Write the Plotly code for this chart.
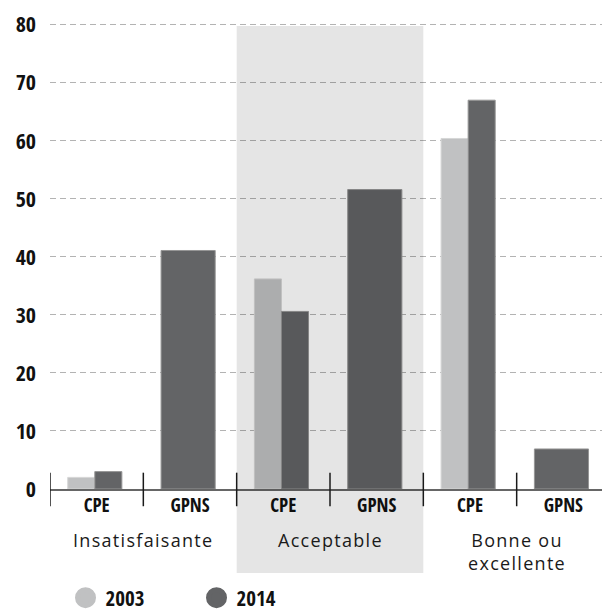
import plotly.graph_objects as go

# ---- data ----
groups = ["Insatisfaisante", "Acceptable", "Bonne ou<br>excellente"]
tick_labels = ["CPE", "GPNS", "CPE", "GPNS", "CPE", "GPNS"]
values_2003 = [2.0, None, 36.2, None, 60.4, None]
values_2014 = [3.0, 41.1, 30.6, 51.6, 67.0, 6.9]
y_ticks = [0, 10, 20, 30, 40, 50, 60, 70, 80]
series_names = ["2003", "2014"]
series_colors = ["#c0c1c2", "#636466"]
highlight_group = 1  # "Acceptable"

# ---- styles ----
COND = "Open Sans Condensed, Roboto Condensed, Liberation Sans Narrow, sans-serif"
HUMAN = "Open Sans, DejaVu Sans, sans-serif"
BAR = 0.29
SHIFT = -0.02

positions = list(range(len(tick_labels)))
n_cat = len(tick_labels)

fig = go.Figure()

x03 = [p for p, v in zip(positions, values_2003) if v is not None]
y03 = [v for v in values_2003 if v is not None]
fig.add_trace(go.Bar(
    x=x03, y=y03, width=BAR, offset=-BAR + SHIFT, name=series_names[0],
    marker=dict(color=series_colors[0], line=dict(color="#d6d6d6", width=1)),
    showlegend=False, hoverinfo="skip"))

w14 = [BAR if v is not None else 2 * BAR for v in values_2003]
o14 = [SHIFT if v is not None else -BAR + SHIFT for v in values_2003]
fig.add_trace(go.Bar(
    x=positions, y=values_2014, width=w14, offset=o14, name=series_names[1],
    marker=dict(color=series_colors[1], line=dict(color="#969696", width=1)),
    showlegend=False, hoverinfo="skip"))

# legend entries (circles)
for name, col in zip(series_names, series_colors):
    fig.add_trace(go.Scatter(
        x=[None], y=[None], mode="markers", name=name,
        marker=dict(symbol="circle", size=16, color=col, line=dict(color=col, width=5))))

# highlighted group background (overlay)
fig.add_shape(type="rect", xref="paper", yref="paper",
              x0=(2 * highlight_group) / n_cat, x1=(2 * highlight_group + 2) / n_cat,
              y0=-0.18, y1=0.9936, fillcolor="rgba(0,0,0,0.10)", line=dict(width=0),
              layer="above")

# category separators
for i in range(n_cat):
    fig.add_shape(type="line", xref="x", yref="paper",
                  x0=i - 0.5, x1=i - 0.5, y0=0.035, y1=-0.037,
                  line=dict(color="#1a1a1a", width=1.5))

# group labels
for gi, g in enumerate(groups):
    txt = "<br>".join(
        f'<span style="letter-spacing:1.3px">{part}</span>' for part in g.split("<br>"))
    fig.add_annotation(x=2 * gi + 0.5, xref="x", y=-0.0796, yref="paper",
                       yanchor="top", xanchor="center", text=txt, showarrow=False,
                       font=dict(family=HUMAN, size=18, color="#1a1a1a"))

fig.update_layout(
    width=610, height=613,
    margin=dict(l=42, r=8, t=15, b=132, pad=0, autoexpand=False),
    plot_bgcolor="white", paper_bgcolor="white",
    barmode="overlay",
    showlegend=True,
    legend=dict(orientation="h", x=0.0277, xanchor="left",
                yref="container", y=0.0375, yanchor="middle",
                font=dict(family=COND, size=21, color="#111111", weight="bold"),
                entrywidth=86, entrywidthmode="pixels", bgcolor="rgba(0,0,0,0)"),
    xaxis=dict(range=[-0.5, n_cat - 0.5], tickmode="array", tickvals=positions,
               ticktext=tick_labels, showgrid=False, zeroline=False, automargin=False,
               showline=True, linecolor="#666666", linewidth=2,
               ticks="", ticklabelstandoff=-2,
               tickfont=dict(family=COND, size=19, color="#111111", weight="bold")),
    yaxis=dict(range=[0, 80.3], tickmode="array", tickvals=y_ticks, automargin=False,
               showgrid=True, gridcolor="#b3b3b3", gridwidth=1, griddash="6px,4px",
               zeroline=False, showline=False, ticks="", ticklabelstandoff=13,
               tickfont=dict(family=COND, size=22, color="#111111", weight="bold")),
)

fig.write_html("out.html")
